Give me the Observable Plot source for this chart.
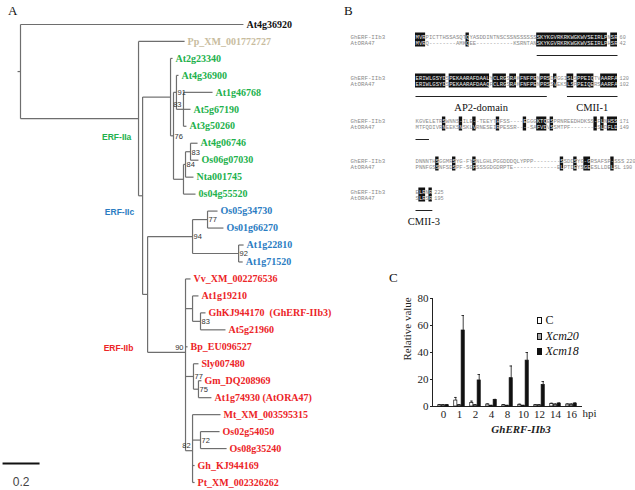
<!DOCTYPE html>
<html><head><meta charset="utf-8">
<script src="https://cdn.jsdelivr.net/npm/d3@7"></script>
<script src="https://cdn.jsdelivr.net/npm/@observablehq/plot@0.6"></script>
<style>
body{margin:0;background:#fff;}
#fig{position:relative;width:635px;height:490px;overflow:hidden;font-family:"Liberation Serif",serif;background:#fff;}
.abs{position:absolute;}
.panel{font-family:"Liberation Serif",serif;font-size:13px;color:#111;}
.leg{font-family:"Liberation Serif",serif;font-size:12px;color:#111;white-space:nowrap;line-height:15.5px;}
.leg span.box{display:inline-block;width:2.5px;height:5px;border:1px solid #111;margin-right:4px;vertical-align:0px;}
</style></head><body><div id="fig"></div>
<script>
// ---------------- DATA ----------------
// Panel A: phylogenetic tree (Newick, branch lengths in substitutions/site, bootstrap as node names)
const treeNewick = "(At4g36920:1.205,(Pp_XM_001772727:0.249,((At2g23340:0.011,((At4g36900:0.011,(At1g46768:0.157,At5g67190:0.038,At3g50260:0.016)83:0.038)91:0.016,(((At4g06746:0.038,Os06g07030:0.043)83:0.027,Nta001745:0.043)84:0.011,0s04g55520:0.065):0.054)76:0.016):0.151,(((Os05g34730:0.054,Os01g66270:0.086)77:0.081,(At1g22810:0.027,At1g71520:0.022)92:0.249)94:0.243,(Vv_XM_002276536:0.027,(At1g19210:0.032,(GhKJ944170:0.027,At5g21960:0.135)83:0.043):0.038,Bp_EU096527:0.011,(Sly007480:0.027,(Gm_DQ208969:0.016,At1g74930:0.070)75:0.027)77:0.043,(Mt_XM_003595315:0.151,(Os02g54050:0.103,Os08g35240:0.141)72:0.043,Gh_KJ944169:0.011,Pt_XM_002326262:0.011)82:0.038)90:0.205):0.027):0.022):0.638);";
const cladeIIa = ["At2g23340","At4g36900","At1g46768","At5g67190","At3g50260","At4g06746","Os06g07030","Nta001745","0s04g55520"];
const cladeIIc = ["Os05g34730","Os01g66270","At1g22810","At1g71520"];
const cladeIIb = ["Vv_XM_002276536","At1g19210","GhKJ944170","At5g21960","Bp_EU096527","Sly007480","Gm_DQ208969","At1g74930","Mt_XM_003595315","Os02g54050","Os08g35240","Gh_KJ944169","Pt_XM_002326262"];
const mossLeaves = ["Pp_XM_001772727"];
const leafNotes = {"GhKJ944170": "\u00a0\u00a0(GhERF-IIb3)", "At1g74930": " (AtORA47)"};
const cladeNames = ["ERF-IIa","ERF-IIc","ERF-IIb"];
const groupKeys = ["IIa","IIc","IIb","moss","out"];
const groupColors = ["#22b14c","#2a7cc2","#ec2427","#c8bc9e","#111111"];
const scaleBarLength = 0.2;

// Panel B: alignment
const seqNames = ["GhERF-IIb3","AtORA47"];
const ghSeq = [
  "MVRPICTTHSSASQTQYASDDINTNSCSSNSSSSSSSKYKGVRKRKWGKWVSEIRLPNSR",
  "ERIWLGSYDSPEKAARAFDAALYCLRGSRAKFNFPENPRSDAGGISLSPPEIQTVAARFA",
  "KGVELETRSWNNS-ILE--TEEYTHFSS----EGGGKTQESPRNREEDHDKSS-FLNHSS",
  "DNNNTHSGGMRSYG-FYSNLGHLPGGDDDQLYPPP--------SSDDSYG-GRSAFSP-SSS",
  "ELRNR"];
const atSeq = [
  "MVRQ--------AMKQEE-----------KSRNTANSKYKGVRKRKWGKWVSEIRLPHSR",
  "ERIWLGSYDSPEKAARAFDAAQFCLRGSRAKFNFPENPRSSVEKSLSPPEIQERSAARFA",
  "MTFQDIVRNEEKSNSKLVRNESEIRPESSR----SAFVDVSSMTPF--------SLDFLD",
  "PNNFGSSNFSDSPF-SGFSSSGDGDRPTE-------------ELPTDEYSGEESLLDELSL",
  "SLRSR"];
const ghEnds = [60,120,171,220,225];
const atEnds = [42,102,149,190,195];
const conserved = [
  [[0,2],[15,15],[36,56],[58,59]],
  [[0,8],[10,21],[23,26],[28,29],[31,35],[37,39],[41,41],[45,46],[48,52],[55,59]],
  [[8,8],[13,13],[17,17],[24,24],[32,32],[36,38],[40,40],[53,53],[55,55],[57,59]],
  [[6,6],[11,11],[17,17],[43,43],[47,47],[50,51],[58,58]],
  [[1,2],[4,4]]];
const domains = [
  {block:0, from:36, to:59, label:""},
  {block:1, from:0, to:38, label:"AP2-domain"},
  {block:1, from:45, to:59, label:"CMII-1"},
  {block:2, from:0, to:3, label:""},
  {block:4, from:0, to:4, label:"CMII-3"}];

// Panel C: qRT-PCR bars
const hpi = ["0","1","2","4","8","10","12","14","16"];
const valC      = [1.0, 4.4, 2.5, 1.5, 1.0, 1.3, 1.0, 2.0, 1.5];
const errC      = [0.3, 2.3, 1.5, 0.4, 0.3, 0.4, 0.2, 0.4, 0.4];
const valXcm20  = [1.0, 1.0, 1.0, 0.6, 0.6, 0.6, 1.0, 1.5, 1.5];
const errXcm20  = [0.2, 0.2, 0.2, 0.2, 0.2, 0.2, 0.2, 0.3, 0.3];
const valXcm18  = [1.0, 56.3, 19.3, 4.8, 21.0, 34.0, 16.0, 2.2, 2.2];
const errXcm18  = [0.3, 11.1, 4.4, 0.5, 9.0, 6.0, 2.5, 0.4, 0.4];
const yTicks = [0,20,40,60,80];
const treatments = ["C","Xcm20","Xcm18"];

// ---------------- BUILD ----------------
const fig = document.getElementById("fig");
function place(el, left, top){ el.classList.add("abs"); el.style.left = left+"px"; el.style.top = top+"px"; fig.appendChild(el); return el; }
function html(s){ const d=document.createElement("div"); d.innerHTML=s; return d; }

function parseNewick(s){
  let i=0;
  function node(){
    const n={children:[], name:"", len:0};
    if(s[i]==="("){ i++; n.children.push(node()); while(s[i]===","){ i++; n.children.push(node()); } i++; }
    let name=""; while(i<s.length && !":,();".includes(s[i])) name+=s[i++];
    n.name=name;
    if(s[i]===":"){ i++; let b=""; while(i<s.length && !",();".includes(s[i])) b+=s[i++]; n.len=+b; }
    return n;
  }
  return node();
}
const root = parseNewick(treeNewick);
let leafCounter = 0; const allNodes = [];
(function lay(n, depth, parent){
  n.x = depth; n.parent = parent; allNodes.push(n);
  if(n.children.length){ n.children.forEach(c=>lay(c, depth+c.len, n)); n.y = d3.mean(n.children, c=>c.y); }
  else n.y = leafCounter++;
})(root, 0, null);
function groupOf(name){
  if(cladeIIa.includes(name)) return "IIa";
  if(cladeIIc.includes(name)) return "IIc";
  if(cladeIIb.includes(name)) return "IIb";
  if(mossLeaves.includes(name)) return "moss";
  return "out";
}
const segs = [];
allNodes.forEach(n=>{
  if(n.parent) segs.push({x1:n.parent.x, x2:n.x, y1:n.y, y2:n.y});
  if(n.children.length) segs.push({x1:n.x, x2:n.x, y1:n.children[0].y, y2:n.children[n.children.length-1].y});
});
segs.push({x1:-0.016, x2:0, y1:root.y, y2:root.y});
const leaves = allNodes.filter(n=>!n.children.length).map(n=>({x:n.x, y:n.y, label:n.name+(leafNotes[n.name]||""), group:groupOf(n.name)}));
const bootsAll = allNodes.filter(n=>n.children.length && n.name!=="").map(n=>({x:n.x, y:n.y, label:n.name, multi:n.children.length>2}));
const bootsBin = bootsAll.filter(d=>!d.multi), bootsMulti = bootsAll.filter(d=>d.multi);
const nLeaves = leafCounter;
// clade labels placed beside their clades (tree units / leaf-index units)
const cladeLabels = [
  {label:cladeNames[0], group:"IIa", x:0.52, y:6.66},
  {label:cladeNames[1], group:"IIc", x:0.535, y:11.08},
  {label:cladeNames[2], group:"IIb", x:0.53, y:19.1}];
const bootStyle = {text:"label", fontFamily:"Liberation Sans Narrow, Liberation Sans", fontSize:7.5, fill:"#333"};

const plotA = Plot.plot({
  width: 335, height: 490, margin: 0,
  x: {domain:[0,1], range:[20,205], axis:null},
  y: {domain:[0,nLeaves-1], range:[24,482], axis:null},
  color: {domain: groupKeys, range: groupColors},
  style: {background:"transparent", overflow:"visible"},
  marks: [
    Plot.link(segs, {x1:"x1", y1:"y1", x2:"x2", y2:"y2", stroke:"#6e6e6e", strokeWidth:1.2}),
    Plot.text(leaves, {x:"x", y:"y", text:"label", fill:"group", dx:3, textAnchor:"start", fontFamily:"Liberation Serif", fontWeight:"bold", fontSize:10}),
    Plot.text(bootsBin, {x:"x", y:"y", dx:1, dy:0.5, textAnchor:"start", ...bootStyle}),
    Plot.text(bootsMulti, {x:"x", y:"y", dx:-2, dy:-5, textAnchor:"end", ...bootStyle}),
    Plot.text(cladeLabels, {x:"x", y:"y", text:"label", fill:"group", fontFamily:"Liberation Sans", fontWeight:"bold", fontSize:8.5}),
    Plot.link([{x1:-0.097, x2:-0.097+scaleBarLength, y:25.88}], {x1:"x1", x2:"x2", y1:"y", y2:"y", stroke:"#111", strokeWidth:2}),
    Plot.text([{x:-0.097+scaleBarLength/2, y:27.0, t:String(scaleBarLength)}], {x:"x", y:"y", text:"t", fontFamily:"Liberation Sans Narrow, Liberation Sans", fontSize:12, fill:"#444"})
  ]
});
place(plotA, 0, 0);

// Panel B
const blockY = [37, 78, 121, 161, 192];
const rowGap = 5.5;
const cells = [], hlRects = [], rowLabels = [], endNums = [];
[ghSeq, atSeq].forEach((seqs, r)=>{
  seqs.forEach((s, b)=>{
    const hl = new Set(); conserved[b].forEach(([a,z])=>{ for(let k=a;k<=z;k++) hl.add(k); });
    [...s].forEach((ch,k)=>cells.push({col:k+0.5, y:blockY[b]+r*rowGap, ch, hl:hl.has(k)}));
    rowLabels.push({y:blockY[b]+r*rowGap, t:seqNames[r]});
    endNums.push({x:s.length+0.6, y:blockY[b]+r*rowGap, t:String(r===0?ghEnds[b]:atEnds[b])});
  });
});
conserved.forEach((ranges,b)=>ranges.forEach(([a,z])=>hlRects.push({x1:a, x2:z+1, y1:blockY[b]-4.5, y2:blockY[b]+rowGap+4})));
const domSegs = domains.map(d=>({x1:d.from, x2:d.to+1, xm:(d.from+d.to+1)/2, y:blockY[d.block]+18, ly:blockY[d.block]+29, label:d.label}));

const plotB = Plot.plot({
  width: 295, height: 230, marginLeft: 10, marginRight: 0, marginTop: 0, marginBottom: 0,
  x: {domain:[0,60], range:[75,277], axis:null},
  y: {domain:[0,230], range:[0,230], axis:null},
  style: {background:"transparent", overflow:"visible"},
  marks: [
    Plot.rect(hlRects, {x1:"x1", x2:"x2", y1:"y1", y2:"y2", fill:"#111"}),
    Plot.text(cells, {x:"col", y:"y", text:"ch", fill:d=>d.hl?"#eeeeee":"#8a8a8a", fontFamily:"Liberation Mono", fontSize:5.6}),
    Plot.text(rowLabels, {frameAnchor:"left", y:"y", text:"t", textAnchor:"start", fill:"#8a8a8a", fontFamily:"Liberation Mono", fontSize:5.8}),
    Plot.text(endNums, {x:"x", y:"y", text:"t", textAnchor:"start", fill:"#8a8a8a", fontFamily:"Liberation Mono", fontSize:5.2}),
    Plot.link(domSegs, {x1:"x1", x2:"x2", y1:"y", y2:"y", stroke:"#222", strokeWidth:1}),
    Plot.text(domSegs.filter(d=>d.label), {x:"xm", y:"ly", text:"label", fill:"#111", fontFamily:"Liberation Serif", fontSize:10.5})
  ]
});
place(plotB, 340, 0);

// Panel C
const barRows = hpi.map((h,i)=>({hpi:h, C:valC[i], eC:valC[i]+errC[i], Xcm20:valXcm20[i], eXcm20:valXcm20[i]+errXcm20[i], Xcm18:valXcm18[i], eXcm18:valXcm18[i]+errXcm18[i]}));
const cW = 255, cML = 52, cMR = 54;
const bw = (cW - cML - cMR)/hpi.length;
const barW = 3.7;
const ins = (bw - barW)/2;
const capIns = (bw - 3)/2;
const fills = {C:"#ffffff", Xcm20:"#a8a8a8", Xcm18:"#111111"};
const offs = {C:-barW, Xcm20:0, Xcm18:barW};
const barMarks = [];
treatments.forEach(t=>{
  barMarks.push(Plot.barY(barRows, {x:"hpi", y:t, dx:offs[t], insetLeft:ins, insetRight:ins, fill:fills[t], stroke:"#111", strokeWidth:0.7}));
  barMarks.push(Plot.ruleX(barRows, {x:"hpi", y1:t, y2:"e"+t, dx:offs[t], stroke:"#111", strokeWidth:0.8}));
  barMarks.push(Plot.tickY(barRows, {x:"hpi", y:"e"+t, dx:offs[t], insetLeft:capIns, insetRight:capIns, stroke:"#111", strokeWidth:0.8}));
});
const plotC = Plot.plot({
  width: cW, height: 175, marginTop: 28, marginLeft: cML, marginRight: cMR, marginBottom: 39,
  x: {domain: hpi, padding: 0, tickSize: 0, tickPadding: 4, line: true, label: null},
  y: {domain: [0,80], ticks: yTicks, tickSize: 2, tickPadding: 2, line: true, label: null},
  style: {background:"transparent", overflow:"visible", fontFamily:"Liberation Serif", fontSize:"11px", color:"#222"},
  marks: [
    ...barMarks,
    Plot.text(["Relative value"], {text:d=>d, frameAnchor:"left", rotate:-90, dx:-25, dy:8, fontFamily:"Liberation Serif", fontSize:11, fill:"#222"}),
    Plot.text(["GhERF-IIb3"], {text:d=>d, frameAnchor:"bottom", dx:14, dy:26, fontFamily:"Liberation Serif", fontWeight:"bold", fontStyle:"italic", fontSize:11, fill:"#222"}),
    Plot.text(["hpi"], {text:d=>d, frameAnchor:"bottom-right", textAnchor:"start", dx:1, dy:10, fontFamily:"Liberation Serif", fontSize:11, fill:"#222"})
  ]
});
place(plotC, 380, 270);

// panel letters & legend
place(html("A"), 8, 3).className += " panel";
place(html("B"), 344, 3).className += " panel";
place(html("C"), 389, 270).className += " panel";
const leg = html(treatments.map(t=>`<div><span class="box" style="background:${fills[t]}"></span>${t==="C"?t:"<i>"+t+"</i>"}</div>`).join(""));
leg.className = "leg";
place(leg, 537, 313);
</script></body></html>
